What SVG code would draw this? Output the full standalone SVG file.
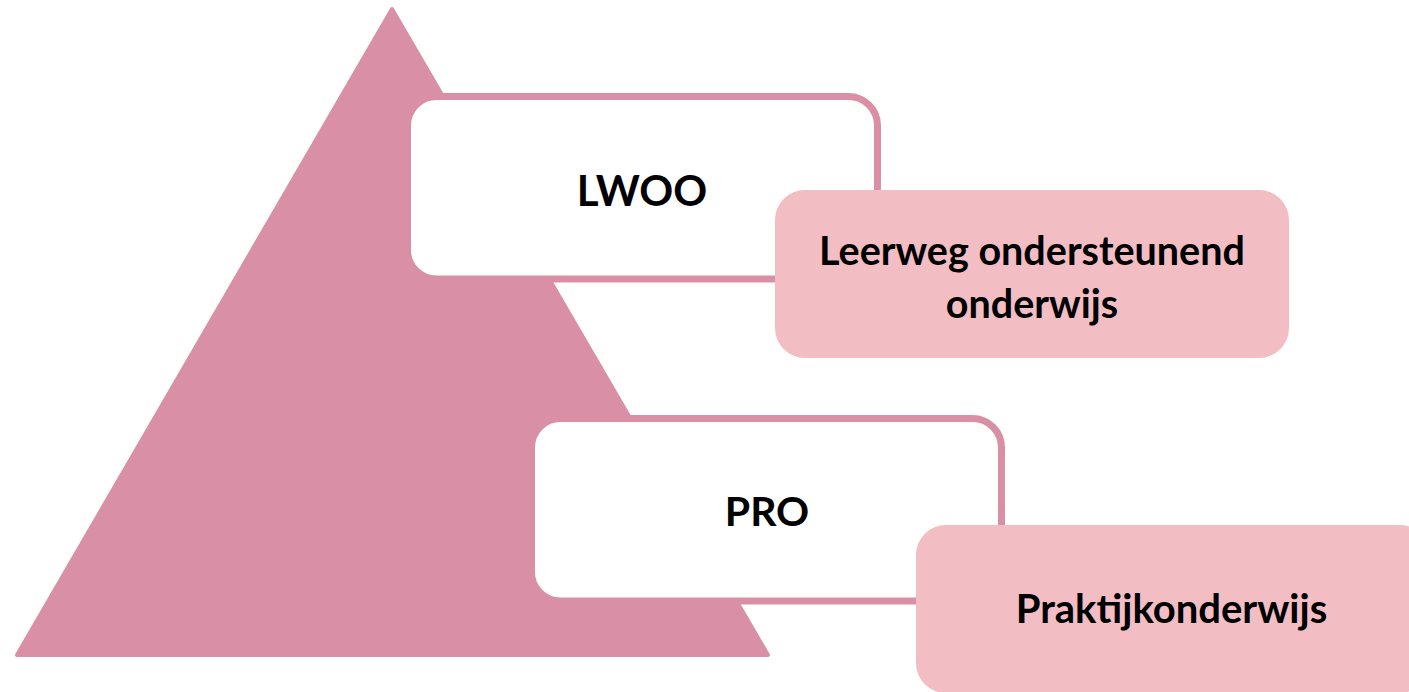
<svg xmlns="http://www.w3.org/2000/svg" width="1409" height="692" viewBox="0 0 1409 692">
  <style>
    .tri { fill: #D990A7; stroke: #D990A7; stroke-width: 4; stroke-linejoin: round; }
    .main { fill: #FFFFFF; stroke: #D990A7; stroke-width: 7; }
    .sub { fill: #F2BEC3; }
    .lbl { font-family: Lato, "Open Sans", "Liberation Sans", sans-serif; font-weight: 700; fill: #000000; text-anchor: middle; }
  </style>
  <g id="pyramid">
    <polygon class="tri" points="392,9 17,655 768,655"/>
  </g>
  <g id="connectors"></g>
  <g id="node-lwoo">
    <rect class="main" x="407.5" y="96.5" width="470" height="182.5" rx="29"/>
    <text class="lbl" x="642" y="206" font-size="42">LWOO</text>
  </g>
  <g id="node-leerweg">
    <rect class="sub" x="775" y="190" width="514" height="168" rx="30"/>
    <text class="lbl" x="1032" y="265" font-size="39.5">Leerweg ondersteunend</text>
    <text class="lbl" x="1032" y="318" font-size="39.5">onderwijs</text>
  </g>
  <g id="node-pro">
    <rect class="main" x="531.5" y="418.5" width="470" height="182.5" rx="29"/>
    <text class="lbl" x="767" y="526" font-size="41">PRO</text>
  </g>
  <g id="node-praktijk">
    <rect class="sub" x="916" y="525" width="514" height="168" rx="30"/>
    <text class="lbl" x="1171.5" y="623" font-size="40">Praktijkonderwijs</text>
  </g>
</svg>
